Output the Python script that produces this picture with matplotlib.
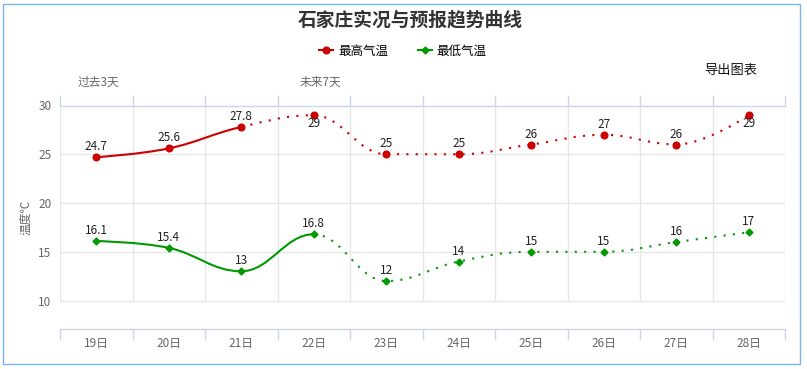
import matplotlib
matplotlib.use("Agg")
import matplotlib.pyplot as plt
from matplotlib.path import Path
from matplotlib.patches import PathPatch, Rectangle
from matplotlib.lines import Line2D

plt.rcParams['font.family'] = ['Noto Sans CJK SC', 'DejaVu Sans']

# data
days = ['19日', '20日', '21日', '22日', '23日', '24日', '25日', '26日', '27日', '28日']
high_temps = [24.7, 25.6, 27.8, 29, 25, 25, 26, 27, 26, 29]
low_temps = [16.1, 15.4, 13, 16.8, 12, 14, 15, 15, 16, 17]
high_solid_until = 2   # observed part ends at 21日
low_solid_until = 3    # observed part ends at 22日

RED = '#cc0000'
GREEN = '#009900'
GRID = '#e6e6e6'
AXIS = '#ccd6eb'
LABEL = '#666666'


def spline_controls(xs, ys, smoothing=1.5):
    """Highcharts-style spline control points for each point."""
    n = len(xs)
    left = [(xs[i], ys[i]) for i in range(n)]
    right = [(xs[i], ys[i]) for i in range(n)]
    denom = smoothing + 1
    for i in range(1, n - 1):
        px, py = xs[i], ys[i]
        lx, ly = xs[i - 1], ys[i - 1]
        nx, ny = xs[i + 1], ys[i + 1]
        lcx = (smoothing * px + lx) / denom
        lcy = (smoothing * py + ly) / denom
        rcx = (smoothing * px + nx) / denom
        rcy = (smoothing * py + ny) / denom
        corr = (rcy - lcy) * (rcx - px) / (rcx - lcx) + py - rcy
        lcy += corr
        rcy += corr
        if lcy > ly and lcy > py:
            lcy = max(ly, py)
            rcy = 2 * py - lcy
        elif lcy < ly and lcy < py:
            lcy = min(ly, py)
            rcy = 2 * py - lcy
        if rcy > ny and rcy > py:
            rcy = max(ny, py)
            lcy = 2 * py - rcy
        elif rcy < ny and rcy < py:
            rcy = min(ny, py)
            lcy = 2 * py - rcy
        left[i] = (lcx, lcy)
        right[i] = (rcx, rcy)
    return left, right


def spline_path(xs, ys, left, right, start, stop):
    verts = [(xs[start], ys[start])]
    codes = [Path.MOVETO]
    for i in range(start + 1, stop + 1):
        verts += [right[i - 1], left[i], (xs[i], ys[i])]
        codes += [Path.CURVE4] * 3
    return Path(verts, codes)


def draw_series(ax, values, color, marker, msize, solid_until):
    xs = list(range(len(values)))
    left, right = spline_controls(xs, values)
    ax.add_patch(PathPatch(spline_path(xs, values, left, right, 0, solid_until),
                           fill=False, edgecolor=color, lw=1.5, zorder=3))
    ax.add_patch(PathPatch(spline_path(xs, values, left, right, solid_until, len(xs) - 1),
                           fill=False, edgecolor=color, lw=1.5,
                           linestyle=(0, (1, 3.5)), zorder=3))
    ax.plot(xs, values, linestyle='none', marker=marker, ms=msize,
            color=color, zorder=4)
    for x, v in zip(xs, values):
        above = v + 1.3 <= 30
        ax.annotate(f'{v:g}', (x, v), xytext=(0, 7.5 if above else -6),
                    textcoords='offset points', ha='center', va='center',
                    fontsize=8.5, color='#222222', zorder=5)


fig = plt.figure(figsize=(8.07, 3.69), dpi=100)
ax = fig.add_axes([60 / 807, 40 / 369, 725 / 807, 223.5 / 369])

ax.set_xlim(-0.5, len(days) - 0.5)
ax.set_ylim(7.08, 30)

# grid
for y in [10, 15, 20, 25]:
    ax.axhline(y, color=GRID, lw=1, zorder=1)
for i in range(len(days) + 1):
    ax.plot([i - 0.5, i - 0.5], [10, 30], color=GRID, lw=1, zorder=1)

draw_series(ax, high_temps, RED, 'o', 4.8, high_solid_until)
draw_series(ax, low_temps, GREEN, 'D', 3.5, low_solid_until)

# axes styling
for side in ['left', 'right']:
    ax.spines[side].set_visible(False)
for side in ['top', 'bottom']:
    ax.spines[side].set_color(AXIS)
    ax.spines[side].set_linewidth(1)

ax.set_xticks([i - 0.5 for i in range(len(days) + 1)])
ax.set_xticklabels([])
ax.set_xticks(range(len(days)), minor=True)
ax.set_xticklabels(days, minor=True)
ax.tick_params(axis='x', which='major', top=True, bottom=True, direction='out',
               length=8, color=AXIS, width=1)
ax.tick_params(axis='x', which='minor', length=0, pad=6, labelsize=8.5,
               labelcolor=LABEL)

ax.set_yticks([10, 15, 20, 25, 30])
ax.tick_params(axis='y', length=0, pad=6, labelsize=8.5, labelcolor=LABEL)
ax.set_ylabel('温度℃', fontsize=8.5, color=LABEL, labelpad=4)

# texts
fig.text(410 / 807, 1 - 20 / 369, '石家庄实况与预报趋势曲线', ha='center', va='center',
         fontsize=13.5, fontweight='bold', color='#333333')
fig.text(731 / 807, 1 - 70 / 369, '导出图表', ha='center', va='center',
         fontsize=9.5, color='#111111')
fig.text(98 / 807, 1 - 82 / 369, '过去3天', ha='center', va='center',
         fontsize=8.5, color=LABEL)
fig.text(320 / 807, 1 - 82 / 369, '未来7天', ha='center', va='center',
         fontsize=8.5, color=LABEL)

handles = [Line2D([], [], color=RED, lw=1.5, marker='o', ms=4.8),
           Line2D([], [], color=GREEN, lw=1.5, marker='D', ms=3.5)]
fig.legend(handles, ['最高气温', '最低气温'], loc='center', ncol=2,
           bbox_to_anchor=(403 / 807, 1 - 51 / 369), frameon=False,
           fontsize=9, handlelength=1.1, handletextpad=0.4, columnspacing=2.4)

# outer border
fig.patches.append(Rectangle((3 / 807, 5 / 369), 797 / 807, 360 / 369,
                             transform=fig.transFigure, fill=False,
                             edgecolor='#7cb5ec', lw=1))

fig.savefig('out.png', dpi=100)
